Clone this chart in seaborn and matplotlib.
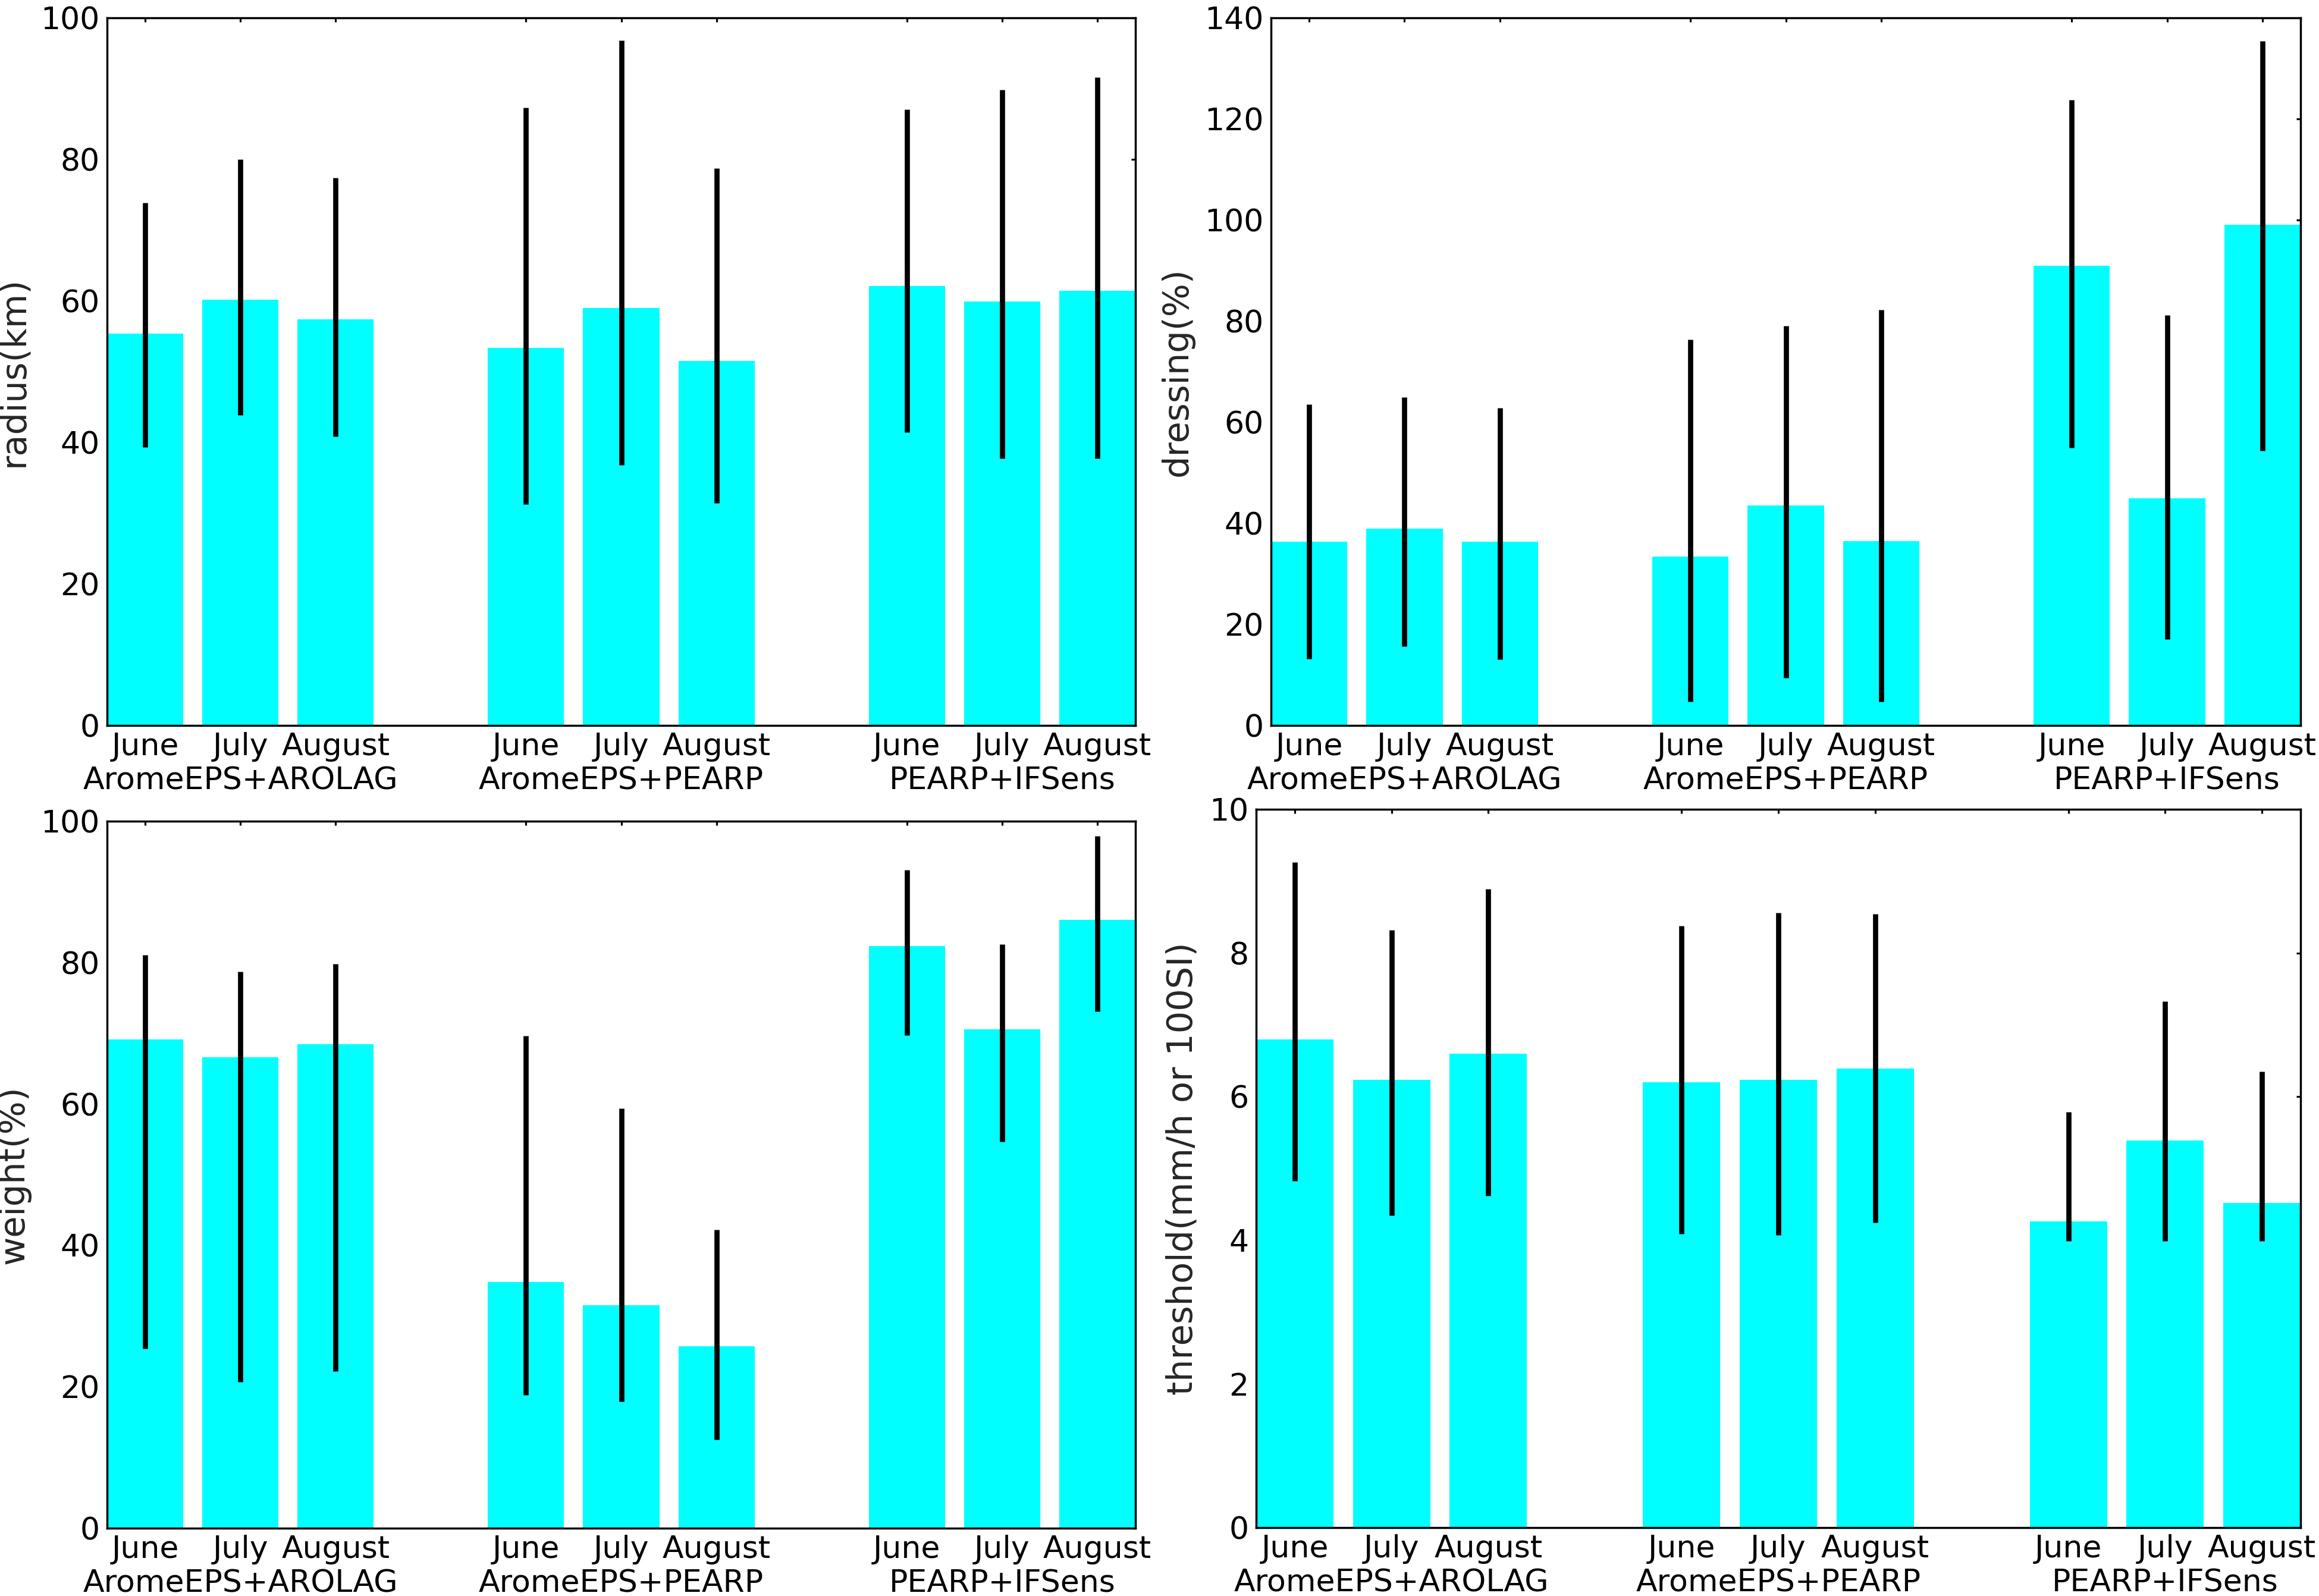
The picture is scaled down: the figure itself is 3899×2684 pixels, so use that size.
import numpy as np
import pandas as pd
import matplotlib
matplotlib.use("Agg")
import matplotlib.pyplot as plt
import seaborn as sns

months = ["June", "July", "August"]
groups = ["AromeEPS+AROLAG", "AromeEPS+PEARP", "PEARP+IFSens"]

radius_mean = [55.4, 60.2, 57.4, 53.4, 59.0, 51.5, 62.1, 59.9, 61.4]
radius_low = [39.3, 43.9, 40.8, 31.3, 36.8, 31.4, 41.4, 37.7, 37.7]
radius_high = [73.9, 80.0, 77.4, 87.3, 96.8, 78.7, 87.1, 89.8, 91.6]

dressing_mean = [36.4, 38.9, 36.3, 33.4, 43.5, 36.5, 90.9, 44.9, 99.1]
dressing_low = [13.2, 15.6, 13.1, 4.7, 9.4, 4.7, 54.9, 17.1, 54.4]
dressing_high = [63.5, 64.9, 62.8, 76.4, 79.1, 82.2, 123.8, 81.2, 135.4]

weight_mean = [69.1, 66.6, 68.5, 34.8, 31.5, 25.7, 82.3, 70.6, 86.0]
weight_low = [25.4, 20.7, 22.2, 18.8, 17.9, 12.5, 69.7, 54.7, 73.1]
weight_high = [81.1, 78.7, 79.8, 69.6, 59.4, 42.2, 93.1, 82.6, 97.9]

threshold_mean = [6.80, 6.23, 6.60, 6.20, 6.23, 6.39, 4.26, 5.39, 4.52]
threshold_low = [4.83, 4.35, 4.62, 4.09, 4.07, 4.25, 3.99, 3.99, 3.99]
threshold_high = [9.26, 8.32, 8.89, 8.38, 8.56, 8.54, 5.79, 7.33, 6.35]

panels = [
    ("radius(km)", radius_mean, radius_low, radius_high, 100, 20),
    ("dressing(%)", dressing_mean, dressing_low, dressing_high, 140, 20),
    ("weight(%)", weight_mean, weight_low, weight_high, 100, 20),
    ("threshold(mm/h or 100SI)", threshold_mean, threshold_low, threshold_high, 10, 2),
]

sns.set_style("white")
plt.rcParams["font.family"] = ["DejaVu Sans"]
plt.rcParams.update({
    "xtick.direction": "in", "ytick.direction": "in",
    "xtick.top": True, "ytick.right": True,
    "xtick.major.size": 2.0, "ytick.major.size": 2.0,
    "xtick.major.width": 0.9, "ytick.major.width": 0.9,
    "axes.edgecolor": "black", "axes.linewidth": 1.0,
    "xtick.color": "black", "ytick.color": "black",
})

W, H, DPI = 3899, 2684, 250
fig = plt.figure(figsize=(W / DPI, H / DPI), dpi=DPI)

positions_px = [
    (180, 1909, 30, 1220),
    (2137, 3868, 30, 1220),
    (180, 1909, 1381, 2570),
    (2112, 3868, 1361, 2569),
]

FS = 15
pos = [g * 4 + m for g in range(len(groups)) for m in range(len(months))]
month_labels = months * len(groups)
group_pos = [g * 4 + 1 for g in range(len(groups))]

for (label, mean, low, high, ymax, ystep), (l, r, t, b) in zip(panels, positions_px):
    ax = fig.add_axes([l / W, 1 - b / H, (r - l) / W, (b - t) / H])
    df = pd.DataFrame({"x": pos, "y": mean})
    sns.barplot(data=df, x="x", y="y", native_scale=True, width=0.8,
                color="#00FFFF", saturation=1, errorbar=None, linewidth=0, ax=ax)
    mean_a = np.array(mean)
    yerr = [mean_a - np.array(low), np.array(high) - mean_a]
    ax.errorbar(pos, mean, yerr=yerr, fmt="none", ecolor="black",
                elinewidth=2.5, capsize=0)
    ax.set_xlim(-0.4, 10.4)
    ax.set_ylim(0, ymax)
    ax.set_yticks(np.arange(0, ymax + ystep / 2, ystep))
    ax.xaxis.remove_overlapping_locs = False
    ax.set_xticks(pos)
    ax.set_xticklabels(month_labels, fontsize=FS)
    ax.set_xticks(group_pos, minor=True)
    ax.set_xticklabels(groups, minor=True, fontsize=FS)
    ax.tick_params(axis="x", which="minor", length=0, top=False, pad=19.8)
    ax.tick_params(axis="y", which="minor", length=0)
    ax.tick_params(axis="y", labelsize=FS, pad=3.5)
    ax.tick_params(axis="x", which="major", pad=3.2)
    ax.set_xlabel("")
    ax.set_ylabel(label, fontsize=17, labelpad=5)
    for s in ax.spines.values():
        s.set_visible(True)
        s.set_color("black")
        s.set_linewidth(1.0)

fig.savefig("out.png", dpi=DPI)
